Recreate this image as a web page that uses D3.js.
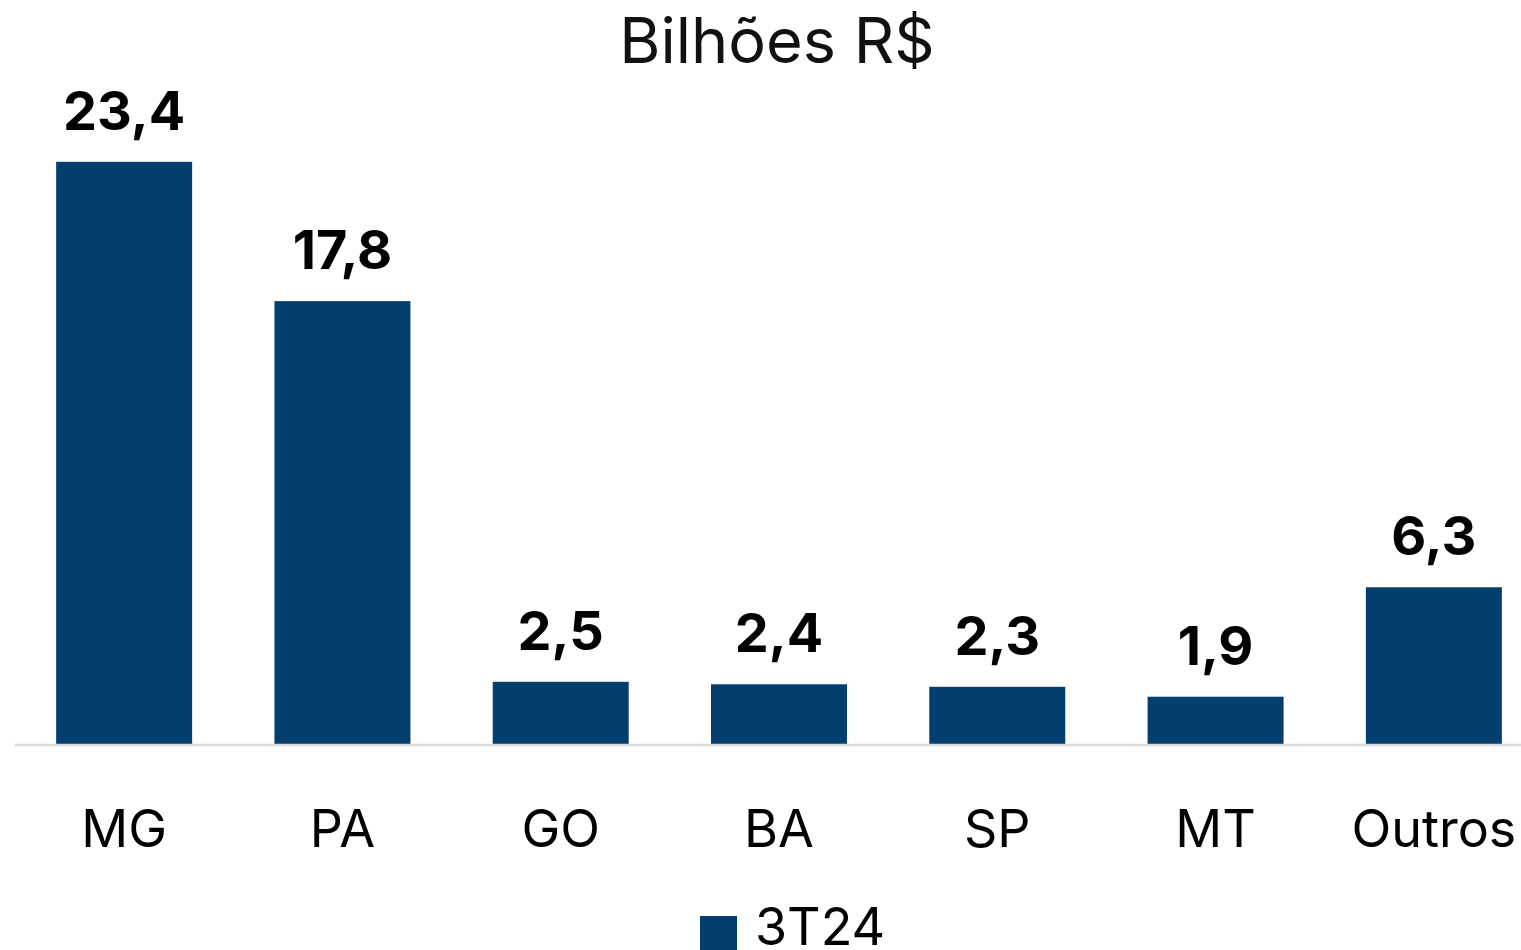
<!DOCTYPE html>
<html>
<head>
<meta charset="utf-8">
<script src="https://cdn.jsdelivr.net/npm/d3@7"></script>
<style>
  html, body { margin: 0; padding: 0; background: #fff; }
  svg { display: block; font-family: Inter, "Open Sans", sans-serif; }
</style>
</head>
<body>
<div id="chart"></div>
<script>
// data
const categories = ['MG', 'PA', 'GO', 'BA', 'SP', 'MT', 'Outros'];
const values = [23.4, 17.8, 2.5, 2.4, 2.3, 1.9, 6.3];
const seriesName = '3T24';
const title = 'Bilhões R$';

(function(){
    const width = 1521, height = 950;
    const baseY = 744;
    const barColor = '#023f6f';

    const svg = d3.select('#chart').append('svg')
        .attr('width', width).attr('height', height);

    const x = d3.scaleBand()
        .domain(categories)
        .range([15, 1543])
        .paddingInner(0.377)
        .paddingOuter(0.1885);

    // ~24.9 px per unit
    const y = d3.scaleLinear().domain([0, 25]).range([baseY, baseY - 622]);

    // title
    svg.append('text')
        .attr('x', 777).attr('y', 63)
        .attr('text-anchor', 'middle')
        .style('font-size', '63px')
        .style('fill', '#111')
        .text(title);

    const data = categories.map((c, i) => ({cat: c, val: values[i]}));

    // bars
    svg.append('g').selectAll('rect').data(data).join('rect')
        .attr('x', d => x(d.cat))
        .attr('width', x.bandwidth())
        .attr('y', d => y(d.val))
        .attr('height', d => y(0) - y(d.val))
        .attr('fill', barColor);

    // axis line
    svg.append('line')
        .attr('x1', 15).attr('x2', width)
        .attr('y1', baseY + 1).attr('y2', baseY + 1)
        .attr('stroke', '#d9d9d9').attr('stroke-width', 2.5);

    // value labels
    const fmt = v => d3.format('.1f')(v).replace('.', ',');
    svg.append('g').selectAll('text').data(data).join('text')
        .attr('x', d => x(d.cat) + x.bandwidth() / 2)
        .attr('y', d => y(d.val) - 32)
        .attr('text-anchor', 'middle')
        .style('font-size', '54px')
        .style('font-weight', 700)
        .style('fill', '#000')
        .text(d => fmt(d.val));

    // category labels
    svg.append('g').selectAll('text').data(categories).join('text')
        .attr('x', d => x(d) + x.bandwidth() / 2)
        .attr('y', 847)
        .attr('text-anchor', 'middle')
        .style('font-size', '52px')
        .style('fill', '#000')
        .text(d => d);

    // legend
    const lg = svg.append('g').attr('transform', 'translate(700,0)');
    lg.append('rect').attr('x', 0).attr('y', 916).attr('width', 37).attr('height', 37).attr('fill', barColor);
    lg.append('text').attr('x', 55).attr('y', 945)
        .style('font-size', '52px').style('fill', '#000')
        .text(seriesName);
})();
</script>
</body>
</html>
